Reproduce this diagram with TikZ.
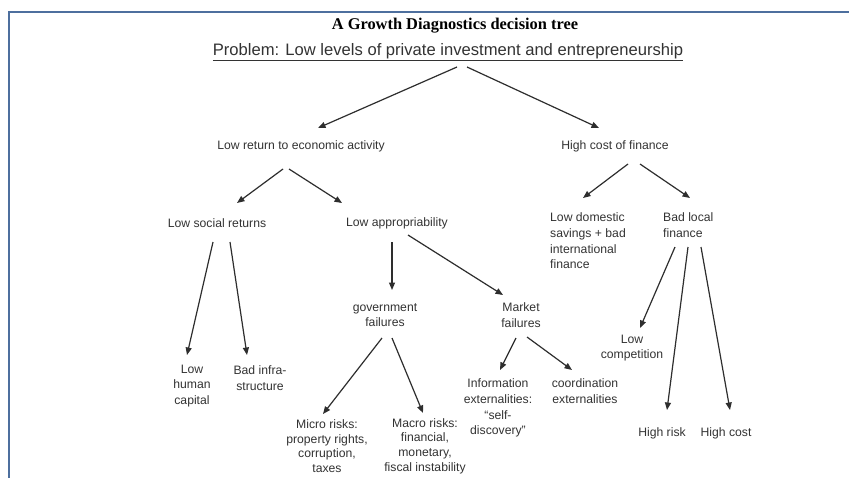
\documentclass[tikz,border=0pt]{standalone}
\usepackage{fontspec}
\setmainfont{Liberation Serif}
\setsansfont{Liberation Sans}
\usetikzlibrary{arrows.meta}
\definecolor{frameblue}{HTML}{4D6F9E}
\definecolor{txtgray}{HTML}{333333}
\definecolor{arrgray}{HTML}{2E2E2E}
\tikzset{
  lbl/.style={inner sep=0pt, text=txtgray, font=\sffamily\fontsize{12.2}{15.7}\selectfont, align=center},
  lbll/.style={lbl, align=left, anchor=west},
  tightlbl/.style={lbl, font=\sffamily\fontsize{12.2}{14.6}\selectfont},
  arr/.style={draw=arrgray, line width=1.2pt, -{Triangle[length=7.5pt,width=6pt]}},
}
\begin{document}
\begin{tikzpicture}[x=1pt,y=-1pt]
\useasboundingbox (0,0) rectangle (849,477);
\clip (0,0) rectangle (849,477);
\fill[white] (0,0) rectangle (849,477);
\draw[frameblue, line width=2.5pt] (9,480) -- (9,12) -- (852,12);

\node[inner sep=0pt, font=\bfseries\fontsize{16.4}{18}\selectfont] (title) at (455,26) {A Growth Diagnostics decision tree};
\node[inner sep=0pt, text=txtgray, font=\sffamily\fontsize{16.6}{18}\selectfont] (sub) at (448,52) {\underline{Problem: Low levels of private investment and entrepreneurship}};

\node[lbl] (lowret) at (301,146) {Low return to economic activity};
\node[lbl] (highcost) at (615,146) {High cost of finance};
\node[lbl] (lowsoc) at (217,223) {Low social returns};
\node[lbl] (lowapp) at (397,223) {Low appropriability};
\node[lbll] (lowdom) at (550,241) {Low domestic\\savings + bad\\international\\finance};
\node[lbll] (badloc) at (663,225) {Bad local\\finance};
\node[lbl] (gov) at (385,315) {government\\failures};
\node[lbl] (market) at (521,315) {Market\\failures};
\node[lbl] (lowhum) at (192,386) {Low\\human\\capital};
\node[lbl] (badinf) at (260,378) {Bad infra-\\structure};
\node[tightlbl] (micro) at (327,446) {Micro risks:\\property rights,\\corruption,\\taxes};
\node[tightlbl] (macro) at (425,446) {Macro risks:\\financial,\\monetary,\\fiscal instability};
\node[lbl] (info) at (498,408) {Information\\externalities:\\“self-\\discovery”};
\node[lbl] (coord) at (585,391) {coordination\\externalities};
\node[lbl] (lowcomp) at (632,348) {Low\\competition};
\node[lbl] (highrisk) at (662,433) {High risk};
\node[lbl] (highcostb) at (726,433) {High cost};

\draw[arr] ([shift={(9,15)}]sub.center) -- ([shift={(17,-18)}]lowret.center);
\draw[arr] ([shift={(19,15)}]sub.center) -- ([shift={(-16,-18)}]highcost.center);
\draw[arr] ([shift={(-18,23)}]lowret.center) -- ([shift={(20,-20)}]lowsoc.center);
\draw[arr] ([shift={(-12,23)}]lowret.center) -- ([shift={(-55,-20)}]lowapp.center);
\draw[arr] ([shift={(-4,19)}]lowsoc.center) -- ([shift={(-5,-31)}]lowhum.center);
\draw[arr] ([shift={(13,19)}]lowsoc.center) -- ([shift={(-13,-23)}]badinf.center);
\draw[arr] ([shift={(-5,19)}]lowapp.center) -- ([shift={(7,-25)}]gov.center);
\draw[arr] ([shift={(11,12)}]lowapp.center) -- ([shift={(-18,-20)}]market.center);
\draw[arr] ([shift={(-3,23)}]gov.center) -- ([shift={(-4,-32)}]micro.center);
\draw[arr] ([shift={(7,23)}]gov.center) -- ([shift={(-2,-33)}]macro.center);
\draw[arr] ([shift={(-5,23)}]market.center) -- ([shift={(2,-38)}]info.center);
\draw[arr] ([shift={(6,22)}]market.center) -- ([shift={(-13,-21)}]coord.center);
\draw[arr] ([shift={(13,18)}]highcost.center) -- ([shift={(33,-43)}]lowdom.west);
\draw[arr] ([shift={(25,18)}]highcost.center) -- ([shift={(27,-27)}]badloc.west);
\draw[arr] ([shift={(12,22)}]badloc.west) -- ([shift={(8,-20)}]lowcomp.center);
\draw[arr] ([shift={(25,22)}]badloc.west) -- ([shift={(5,-23)}]highrisk.center);
\draw[arr] ([shift={(38,22)}]badloc.west) -- ([shift={(4,-23)}]highcostb.center);
\end{tikzpicture}
\end{document}
